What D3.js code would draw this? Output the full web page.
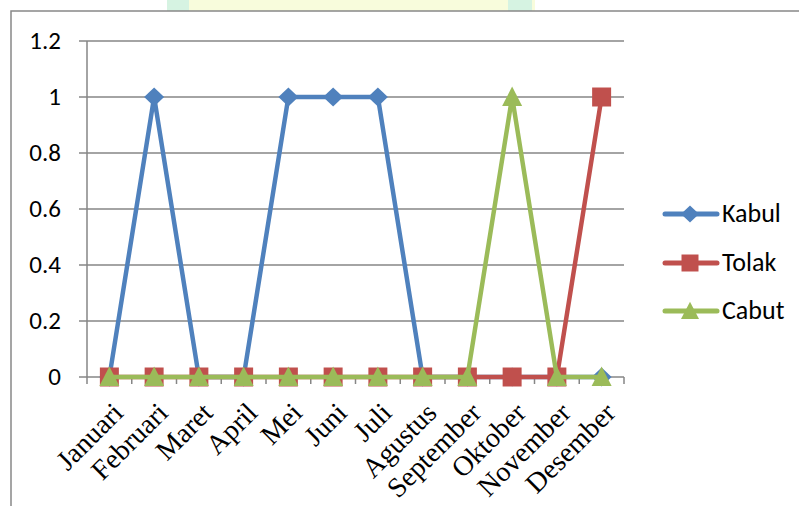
<!DOCTYPE html>
<html><head><meta charset="utf-8">
<script src="https://cdn.jsdelivr.net/npm/d3@7"></script>
<style>body{margin:0;background:#fff}svg{display:block}</style>
</head><body>
<svg id="c" width="799" height="506"></svg>
<script>
const months = ["Januari","Februari","Maret","April","Mei","Juni","Juli","Agustus","September","Oktober","November","Desember"];
const kabul = [0,1,0,0,1,1,1,0,0,0,0,0];
const tolak = [0,0,0,0,0,0,0,0,0,0,0,1];
const cabut = [0,0,0,0,0,0,0,0,0,1,0,0];
const yTicks = [0,0.2,0.4,0.6,0.8,1,1.2];
const seriesNames = ["Kabul","Tolak","Cabut"];
const seriesColors = ["#4F81BD","#C0504D","#9BBB59"];

// custom marker shapes (size = nominal width in px)
const diamond = {draw(ctx, s){ const w=s/2, h=s*0.47; ctx.moveTo(0,-h); ctx.lineTo(w,0); ctx.lineTo(0,h); ctx.lineTo(-w,0); ctx.closePath(); }};
const square = {draw(ctx, s){ const h=s/2; ctx.rect(-h,-h,s,s); }};
const triangle = {draw(ctx, s){ const w=s/2; ctx.moveTo(0,-s*0.52); ctx.lineTo(w,s*0.45); ctx.lineTo(-w,s*0.45); ctx.closePath(); }};
const seriesSymbols = [diamond, square, triangle];
const markSizes = [20,19,20];
const legSizes = [18,17,18];

const svg = d3.select("#c");
// faint watermark at top
svg.append("rect").attr("x",167).attr("y",0).attr("width",368).attr("height",11).attr("fill","#f8fcdc");
svg.append("rect").attr("x",167).attr("y",0).attr("width",22).attr("height",11).attr("fill","#d6f3e2");
svg.append("rect").attr("x",508).attr("y",0).attr("width",24).attr("height",11).attr("fill","#d6f3e2");
// chart border
svg.append("rect").attr("x",11).attr("y",11).attr("width",800).attr("height",520)
  .attr("fill","#fff").attr("stroke","#888").attr("stroke-width",1.5);

const x = d3.scaleBand().domain(months).range([87,624]);
const y = d3.scaleLinear().domain([0,1.2]).range([377,41]);

// gridlines
svg.append("g").selectAll("line").data(yTicks).join("line")
  .attr("x1",79).attr("x2",624).attr("y1",d=>y(d)).attr("y2",d=>y(d))
  .attr("stroke","#868686").attr("stroke-width",1.5);
// y axis
svg.append("line").attr("x1",87).attr("x2",87).attr("y1",41).attr("y2",377).attr("stroke","#868686").attr("stroke-width",1.5);
// x ticks
const bounds = months.map(m=>x(m)).concat([624]);
svg.append("g").selectAll("line").data(bounds).join("line")
  .attr("x1",d=>d).attr("x2",d=>d).attr("y1",377).attr("y2",384)
  .attr("stroke","#868686").attr("stroke-width",1.5);

// y labels
svg.append("g").selectAll("text").data(yTicks).join("text")
  .attr("x",61).attr("y",d=>y(d)+8).attr("text-anchor","end")
  .attr("font-family","Carlito, Lato, 'Open Sans', sans-serif").attr("font-size",25).attr("fill","#000")
  .text(d=>d3.format("")(d));

// x labels
svg.append("g").selectAll("text").data(months).join("text")
  .attr("transform",d=>`translate(${x(d)+x.bandwidth()/2+2},${401}) rotate(-45)`)
  .attr("text-anchor","end").attr("dy","0.68em")
  .attr("font-family","'Liberation Serif','Times New Roman',serif").attr("font-size",28).attr("fill","#000")
  .text(d=>d);

const cx = d => x(d)+x.bandwidth()/2;
const allSeries = [kabul, tolak, cabut];
allSeries.forEach((vals,i)=>{
  const pts = months.map((m,j)=>[cx(m), y(vals[j])]);
  svg.append("path").attr("d",d3.line()(pts)).attr("fill","none")
    .attr("stroke",seriesColors[i]).attr("stroke-width",4.5).attr("stroke-linejoin","round");
  svg.append("g").selectAll("path").data(pts).join("path")
    .attr("transform",d=>`translate(${d[0]},${d[1]})`)
    .attr("d",d3.symbol().type(seriesSymbols[i]).size(markSizes[i]))
    .attr("fill",seriesColors[i]);
});

// legend
const legY = [214,263,311];
seriesNames.forEach((n,i)=>{
  const g = svg.append("g");
  g.append("line").attr("x1",665).attr("x2",717).attr("y1",legY[i]).attr("y2",legY[i])
    .attr("stroke",seriesColors[i]).attr("stroke-width",5).attr("stroke-linecap","round");
  g.append("path").attr("transform",`translate(690,${legY[i]})`)
    .attr("d",d3.symbol().type(seriesSymbols[i]).size(legSizes[i])).attr("fill",seriesColors[i]);
  g.append("text").attr("x",722).attr("y",legY[i]+8).attr("font-family","Carlito, Lato, 'Open Sans', sans-serif")
    .attr("font-size",26).attr("fill","#000").text(n);
});
</script>
</body></html>
